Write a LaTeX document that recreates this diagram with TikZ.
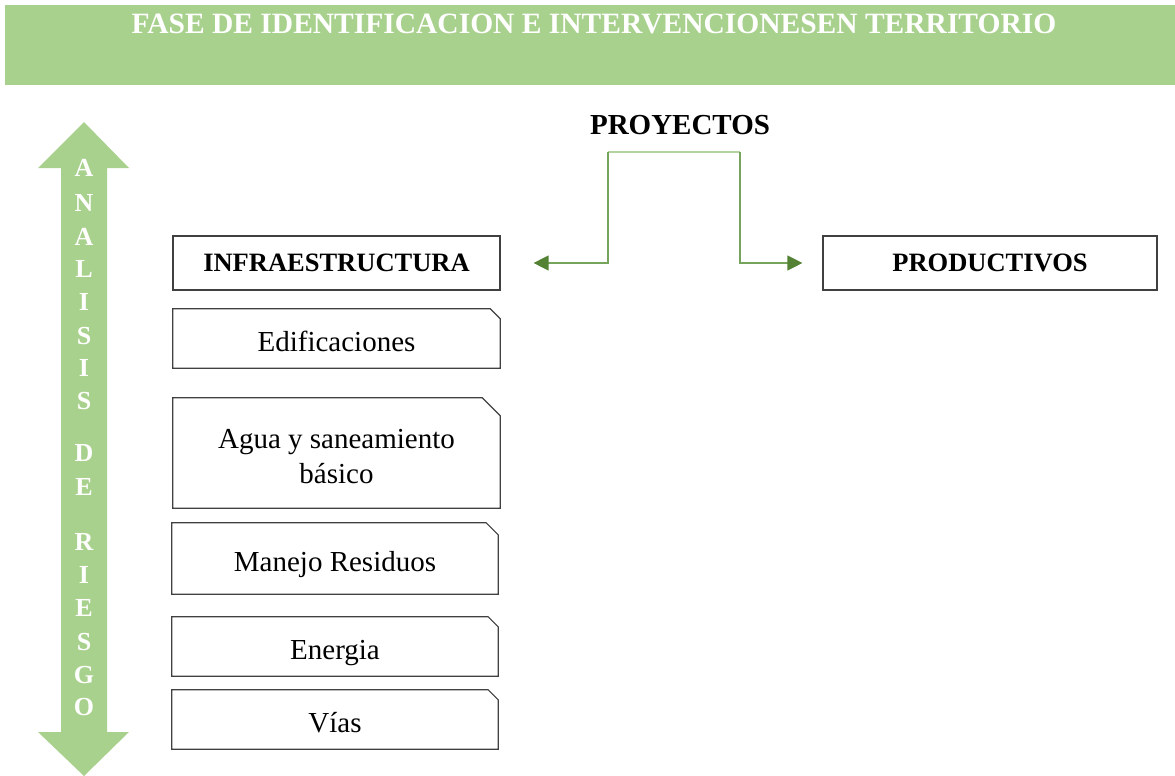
\documentclass[tikz,border=0pt]{standalone}
\usepackage{fontspec}
\setmainfont{Liberation Serif}
\usetikzlibrary{arrows.meta}

\definecolor{bandgreen}{HTML}{A9D18E}
\definecolor{linkdark}{HTML}{548235}
\definecolor{linkmid}{HTML}{76A45C}
\definecolor{linklight}{HTML}{B3D39F}
\definecolor{boxgray}{HTML}{404040}

\newcommand{\cutbox}[2]{%
  \draw[boxline] (#1.south west) -- (#1.north west) -- ([xshift=-#2pt]#1.north east)
    -- ([yshift=-#2pt]#1.north east) -- (#1.south east) -- cycle;}

\tikzset{
  title/.style={text=white, font=\fontsize{29.5}{35}\selectfont\bfseries},
  letter/.style={text=white, inner sep=0pt, font=\fontsize{26}{30}\selectfont\bfseries},
  head/.style={draw=boxgray, line width=1.2pt, minimum height=54pt,
    font=\fontsize{26.5}{32}\selectfont\bfseries},
  item/.style={minimum width=327pt, align=center, text height=26pt, text depth=0pt,
    font=\fontsize{29}{35}\selectfont},
  boxline/.style={draw=boxgray, line width=1.2pt},
  link/.style={linkmid, line width=1.3pt, -{Triangle[length=15pt,width=15pt,color=linkdark]}}
}

\begin{document}
\begin{tikzpicture}[x=1pt, y=-1pt]
\useasboundingbox (0,0) rectangle (1175,776);

% banner
\fill[bandgreen] (5,5) rectangle (1175,85);
\node[title] (ttl) at (594,24) {FASE DE IDENTIFICACION E INTERVENCIONESEN TERRITORIO};

% vertical double arrow
\fill[bandgreen] (84,122) -- (129,168) -- (107,168) -- (107,732) -- (129,732)
  -- (84,776) -- (38,732) -- (61,732) -- (61,168) -- (38,168) -- cycle;
\foreach \l/\y in {A/168,N/203,A/237,L/269,I/302,S/336,I/368,S/401,
                   D/453,E/487,R/542,I/575,E/608,S/642,G/675,O/707}
    \node[letter] (l\y) at (84,\y) {\l};

% project types
\node[font=\fontsize{29}{35}\selectfont\bfseries] (proy) at (680,125) {PROYECTOS};
\node[head, minimum width=327pt] (infra) at (336.5,263) {INFRAESTRUCTURA};
\node[head, minimum width=334pt] (prod) at (990,263) {PRODUCTIVOS};

% split connector
\coordinate (jl) at (608,152);
\coordinate (jr) at (740,152);
\draw[linklight, line width=1.3pt] (jl) -- (jr);
\draw[link] (jl) |- ([xshift=33pt]infra.east);
\draw[link] (jr) |- ([xshift=-20pt]prod.west);

% infrastructure items
\node[item, minimum height=59pt] (edif) at (336.5,338.5) {Edificaciones};
\node[item, minimum height=110pt, text height=61pt] (agua) at (336.5,453) {Agua y saneamiento\\básico};
\node[item, minimum width=326pt, minimum height=71pt] (resid) at (335,558.5) {Manejo Residuos};
\node[item, minimum width=326pt, minimum height=59pt] (ener) at (335,646.5) {Energia};
\node[item, minimum width=326pt, minimum height=59pt] (vias) at (335,719.5) {Vías};
\foreach \n/\c in {edif/10,agua/18,resid/12,ener/10,vias/10}
    \cutbox{\n}{\c};

\end{tikzpicture}
\end{document}
